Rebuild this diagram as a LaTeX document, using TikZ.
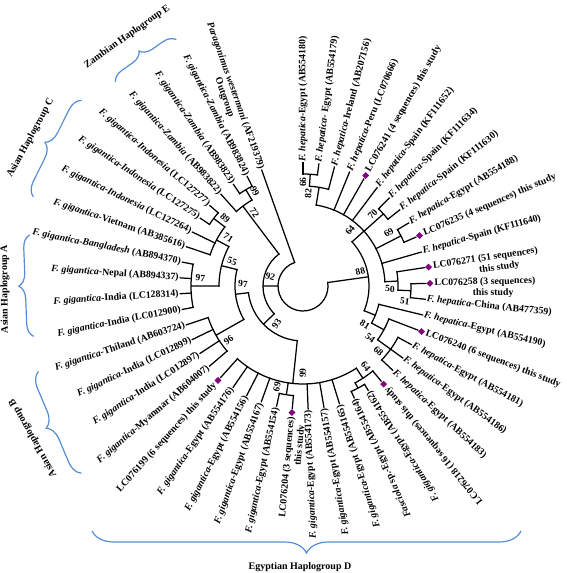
\documentclass[tikz,border=0pt]{standalone}
\usepackage{fontspec}
\setmainfont{Liberation Serif}
\usetikzlibrary{shapes.geometric, decorations.pathreplacing, positioning, calc}
\definecolor{hapblue}{RGB}{84,141,212}
\definecolor{seqpurple}{RGB}{128,0,128}
\tikzset{
  branch/.style={draw=black, line width=1.25pt, line cap=rect},
  leafR/.style={font=\fontsize{9.8}{11}\selectfont\bfseries, anchor=west, inner sep=1.5pt},
  leafL/.style={font=\fontsize{9.8}{11}\selectfont\bfseries, anchor=east, inner sep=1.5pt},
  studyline/.style={font=\fontsize{9.8}{11}\selectfont\bfseries, inner sep=0pt},
  seqmark/.style={diamond, fill=seqpurple, minimum size=7pt, inner sep=0pt},
  bootlbl/.style={font=\fontsize{9.5}{10}\selectfont\bfseries, inner sep=0.5pt},
  grouplbl/.style={font=\fontsize{10}{11}\selectfont\bfseries, inner sep=0pt},
  hapbrace/.style={draw=hapblue, line width=1.2pt, decorate, decoration={brace, amplitude=#1}},
  hapbrace/.default=12pt
}
% incoming angle, parent radius, radius, first and last child angle
\newcommand{\clade}[5]{\draw[branch] (#1:#2) -- (#1:#3) (#4:#3) arc[start angle=#4, end angle=#5, radius=#3pt];}

\begin{document}
\begin{tikzpicture}[x=1pt, y=1pt]
  \useasboundingbox (0,0) rectangle (567,-573);
  \begin{scope}[shift={(303,-286)}]
    % root
    \draw[branch] (109.6:25) arc[start angle=109.6, end angle=368, radius=25pt];
    % Zambian and Asian clades
    \clade{180}{25}{40}{127}{224}
    \clade{127}{40}{100}{120.7}{131.8}
    \clade{120.7}{100}{112}{117}{124.4}
    \clade{224}{40}{55}{187}{264}
    \clade{187}{55}{68}{166}{209.5}
    \clade{166}{68}{84}{152}{180}
    \clade{152}{84}{98}{142.9}{161.4}
    \clade{142.9}{98}{112}{139.2}{146.6}
    \clade{180}{84}{112}{168.8}{191}
    \clade{209.5}{68}{100}{198.4}{220.6}
    % Egyptian F. gigantica clade
    \clade{264}{55}{98}{228}{303}
    \clade{261.3}{98}{110}{257.6}{265}
    \clade{303}{98}{110}{298.3}{309.4}
    \clade{298.3}{110}{116}{294.6}{302}
    % F. hepatica clade
    \clade{8}{25}{66}{-22}{42}
    \clade{42}{66}{82}{3}{80.75}
    \clade{80.75}{82}{100}{75.2}{86.3}
    \clade{86.3}{100}{112}{82.6}{90}
    \clade{41.9}{82}{108}{38.2}{45.6}
    \clade{27.1}{82}{110}{23.4}{30.8}
    \clade{3}{82}{95}{-2.5}{8.6}
    \clade{-2.5}{95}{108}{-6.2}{1.2}
    \clade{-22}{66}{78}{-28.4}{-13.6}
    \clade{-28.4}{78}{92}{-35.8}{-21}
    \clade{-35.8}{92}{108}{-43.2}{-28.4}

    % leaves: index / parent radius / label
    \foreach \i/\pr/\txt in {
      1/112/{\textit{F. hepatica}-Egypt (AB554180)},
      2/112/{\textit{F. hepatica}- Egypt (AB554179)},
      3/100/{\textit{F. hepatica}-Ireland (AB207156)},
      4/82/{\textit{F. hepatica}-Peru (LC070666)},
      6/82/{\textit{F. hepatica}-Spain (KF111652)},
      7/108/{\textit{F. hepatica}-Spain (KF111634)},
      8/108/{\textit{F. hepatica}-Spain (KF111630)},
      9/110/{\textit{F. hepatica}-Egypt (AB554188)},
      11/82/{\textit{F. hepatica}-Spain (KF111640)},
      14/108/{\textit{F. hepatica}-China (AB477359)},
      15/78/{\textit{F. hepatica}-Egypt (AB554190)},
      17/108/{\textit{F. hepatica}-Egypt (AB554181)},
      18/108/{\textit{F. hepatica}-Egypt (AB554186)},
      19/108/{\textit{F. hepatica}-Egypt (AB554183)},
      21/116/{\textit{F. gigantica}-Egypt (AB554162)},
      22/116/{\textit{Fasciola} sp.-Egypt (AB554164)},
      23/98/{\textit{F. gigantica}-Egypt (AB554165)},
      24/98/{\textit{F. gigantica}-Egypt (AB554157)},
      25/98/{\textit{F. gigantica}-Egypt (AB554173)},
      27/110/{\textit{F. gigantica}-Egypt (AB554154)},
      28/98/{\textit{F. gigantica}-Egypt (AB554167)},
      29/98/{\textit{F. gigantica}-Egypt (AB554156)},
      30/98/{\textit{F. gigantica}-Egypt (AB554176)},
      32/100/{\textit{F. gigantica}-Myanmar (AB604007)},
      33/100/{\textit{F. gigantica}-India (LC012897)},
      34/100/{\textit{F. gigantica}-India (LC012899)},
      35/100/{\textit{F. gigantica}-Thiland (AB603724)},
      36/112/{\textit{F. gigantica}-India (LC012900)},
      37/112/{\textit{F. gigantica}-India (LC128314)},
      38/112/{\textit{F. gigantica}-Nepal (AB894337)},
      39/112/{\textit{F. gigantica-Bangladesh} (AB894370)},
      40/98/{\textit{F. gigantica}-Vietnam (AB385616)},
      41/98/{\textit{F. gigantica-Indonesia} (LC127264)},
      42/112/{\textit{F. gigantica-Indonesia} (LC127275)},
      43/112/{\textit{F. gigantica-Indonesia} (LC127277)},
      44/100/{\textit{F. gigantica-Zambia} (AB983822)},
      45/112/{\textit{F. gigantica-Zambia} (AB983823)},
      46/112/{\textit{F. gigantica-Zambia} (AB983824)},
      47/25/{\textit{Paragonimus westermani} (AF219379)}}{
      \pgfmathsetmacro\ang{90-7.4*(\i-1)}
      \draw[branch] (\ang:\pr) -- (\ang:123);
      \ifnum\i<20
        \node[leafR, rotate=\ang] (leaf\i) at (\ang:123) {\txt};
      \else
        \node[leafL, rotate=\ang+180] (leaf\i) at (\ang:123) {\txt};
      \fi
    }

    % sequences of this study
    \foreach \i/\pr/\txt in {
      5/82/{LC076241 (4 sequences) this study},
      10/110/{LC076235 (4 sequences) this study},
      12/95/{LC076271 (51 sequences)},
      13/108/{LC076258 (3 sequences)},
      16/92/{LC076240 (6 sequences) this study},
      20/110/{LC076218 (16 sequences) this study},
      26/110/{LC076204 (3 sequences)},
      31/98/{LC076199 (6 sequences) this study}}{
      \pgfmathsetmacro\ang{90-7.4*(\i-1)}
      \draw[branch] (\ang:\pr) -- (\ang:123);
      \node[seqmark] (gem\i) at (\ang:127) {};
      \ifnum\i<20
        \node[leafR, rotate=\ang] (leaf\i) at (\ang:130) {\txt};
      \else
        \node[leafL, rotate=\ang+180] (leaf\i) at (\ang:130) {\txt};
      \fi
    }
    \node[studyline, rotate=8.6] (study12) at ($(8.6:197)+(-81.4:11)$) {this study};
    \node[studyline, rotate=1.2] (study13) at ($(1.2:190)+(-88.8:11)$) {this study};
    \node[studyline, rotate=85] (study26) at ($(265:159)+(355:11)$) {this study};
    \node[studyline, rotate=-70.4] (outlbl) at ($(109.6:204)+(199.6:11)$) {Outgroup};

    % bootstrap values
    \foreach \id/\a/\r/\v in {b66/90/104/66, b82/86.7/93/82, b64/49.8/73/64,
      b70/45.8/100/70, b69/32/101/69, b88/14/59/88, b50/-2/87/50, b51/-8.7/103/51,
      b81/-32/73/81, b54/-37.6/85/54, b68/-41/100/68, b64e/-52/102/64,
      b99e/-90.2/87/99, b69e/-104.5/104/69, b93/234.8/45.7/93, b92/164/34/92,
      b97b/178/60/97, b96/216/92/96, b97a/175.5/103/97, b55/161/75/55,
      b71/147/89/71, b89/139/103/89, b72/123.5/88/72, b99z/117/106/99}{
      \pgfmathsetmacro\rot{(\a>90 || \a<-90) ? \a-180 : \a}
      \node[bootlbl, rotate=\rot] (\id) at (\a:\r) {\v};
    }

    % haplogroup brackets
    \draw[hapbrace=12pt] (132.6:277) -- (117.2:277);
    \draw[hapbrace=14pt] (161.7:284) -- (140:289);
    \draw[hapbrace=13pt] (190.6:274) -- (169.4:278);
    \draw[hapbrace=15pt] (220.2:290) -- (197.9:278);
    \node[grouplbl, rotate=35.2] (hapE) at (125.2:305) {Zambian Haplogroup E};
    \node[grouplbl, rotate=61.5] (hapC) at (151.5:310) {Asian Haplogroup C};
    \node[grouplbl, rotate=90.6] (hapA) at (180.6:298) {Asian Haplogroup A};
    \node[grouplbl, rotate=119.4] (hapB) at (209.4:310) {Asian Haplogroup B};
  \end{scope}
  \draw[hapbrace=22pt] (521,-531) -- (92,-531);
  \node[grouplbl] (hapD) at (300,-567) {Egyptian Haplogroup D};
\end{tikzpicture}
\end{document}
